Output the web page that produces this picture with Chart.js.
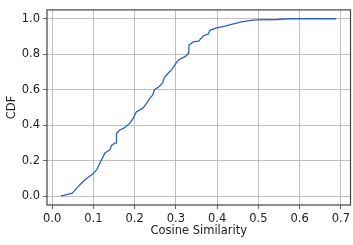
<!DOCTYPE html>
<html>
<head>
<meta charset="utf-8">
<script src="https://cdn.jsdelivr.net/npm/chart.js@4"></script>
<style>
  html, body { margin: 0; padding: 0; background: #fff; }
  canvas { display: block; }
</style>
</head>
<body>
<canvas id="chart" width="353" height="245"></canvas>
<script>
const simX = [0.021, 0.049, 0.065, 0.077, 0.089, 0.100, 0.109, 0.116, 0.128, 0.140,
  0.144, 0.152, 0.156, 0.156, 0.164, 0.176, 0.188, 0.196, 0.204, 0.220,
  0.228, 0.236, 0.244, 0.248, 0.260, 0.268, 0.272, 0.284, 0.291, 0.300,
  0.307, 0.323, 0.331, 0.332, 0.343, 0.355, 0.367, 0.379, 0.383, 0.399,
  0.419, 0.435, 0.459, 0.482, 0.498, 0.546, 0.574, 0.689];
const cdfY = [0.000, 0.017, 0.059, 0.087, 0.109, 0.127, 0.152, 0.188, 0.243, 0.262,
  0.286, 0.299, 0.300, 0.354, 0.373, 0.386, 0.410, 0.437, 0.474, 0.496,
  0.520, 0.548, 0.570, 0.600, 0.618, 0.640, 0.668, 0.700, 0.716, 0.748,
  0.769, 0.788, 0.806, 0.852, 0.871, 0.874, 0.904, 0.915, 0.935, 0.949,
  0.958, 0.969, 0.982, 0.991, 0.994, 0.996, 1.000, 1.000];
const xTicks = [0, 0.1, 0.2, 0.3, 0.4, 0.5, 0.6, 0.7];
const yTicks = [0, 0.2, 0.4, 0.6, 0.8, 1.0];

const font = { family: 'DejaVu Sans', size: 11.5 };
Chart.defaults.color = '#222';

// matplotlib-style box around the plot area
const frame = {
  id: 'frame',
  afterDraw(chart) {
    const { ctx, chartArea: a } = chart;
    ctx.save();
    ctx.strokeStyle = '#444';
    ctx.lineWidth = 1.2;
    ctx.strokeRect(a.left, a.top, a.right - a.left, a.bottom - a.top);
    ctx.restore();
  }
};

new Chart(document.getElementById('chart'), {
  type: 'line',
  data: {
    datasets: [{
      data: simX.map((x, i) => ({ x: x, y: cdfY[i] })),
      borderColor: '#2d5fc6',
      borderWidth: 1.3,
      pointRadius: 0,
      tension: 0,
      fill: false
    }]
  },
  options: {
    responsive: false,
    animation: false,
    layout: { padding: { top: 5, right: 1, left: 0, bottom: 0 } },
    plugins: { legend: { display: false }, tooltip: { enabled: false } },
    scales: {
      x: {
        type: 'linear',
        min: -0.0125,
        max: 0.7235,
        afterFit: s => { s.height = 40; },
        afterBuildTicks: s => { s.ticks = xTicks.map(v => ({ value: v })); },
        ticks: { font: font, padding: 3, maxRotation: 0, callback: v => v.toFixed(1) },
        grid: { color: '#b0b0b0', lineWidth: 0.8, tickLength: 4, tickColor: '#444' },
        border: { display: false },
        title: { display: true, text: 'Cosine Similarity', font: font, padding: { top: 2, bottom: 7 } }
      },
      y: {
        min: -0.05,
        max: 1.05,
        afterFit: s => { s.width = 47; },
        afterBuildTicks: s => { s.ticks = yTicks.map(v => ({ value: v })); },
        ticks: { font: font, padding: 3, callback: v => v.toFixed(1) },
        grid: { color: '#b0b0b0', lineWidth: 0.8, tickLength: 4, tickColor: '#444' },
        border: { display: false },
        title: { display: true, text: 'CDF', font: font, padding: { top: 5, bottom: 2 } }
      }
    }
  },
  plugins: [frame]
});
</script>
</body>
</html>
